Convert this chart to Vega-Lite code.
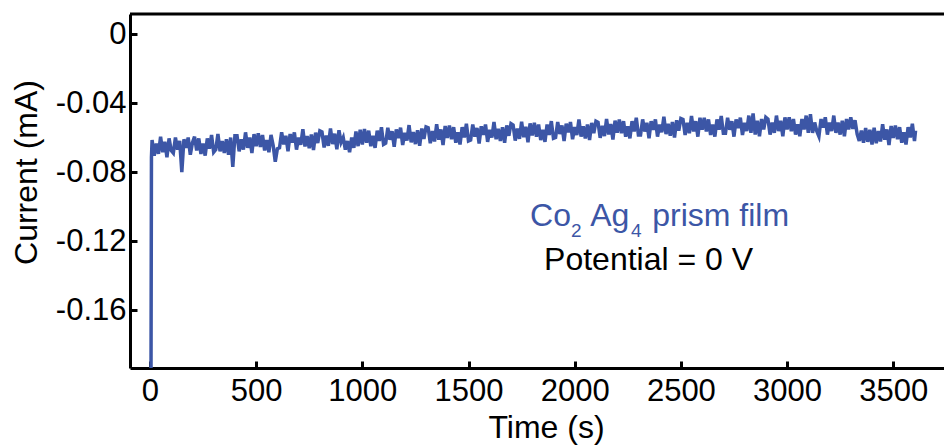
{
  "$schema": "https://vega.github.io/schema/vega-lite/v6.json",
  "width": 814,
  "height": 354,
  "padding": {"left": 130, "top": 14, "right": 0, "bottom": 78},
  "autosize": {"type": "none"},
  "background": "white",
  "config": {
    "view": {"stroke": null},
    "axis": {
      "grid": false,
      "domainColor": "black",
      "domainWidth": 3,
      "tickColor": "black",
      "tickWidth": 3,
      "tickSize": -7,
      "labelFont": "Liberation Sans",
      "labelColor": "black",
      "labelFontSize": 31,
      "titleFont": "Liberation Sans",
      "titleFontWeight": "normal",
      "titleColor": "black",
      "titleFontSize": 32
    },
    "text": {"font": "Liberation Sans", "align": "left", "baseline": "alphabetic"}
  },
  "data": {
    "values": [
      {"t": 4, "i": -0.25}, {"t": 7, "i": -0.0715},
      {"t": 10, "i": -0.0615}, {"t": 20, "i": -0.0705}, {"t": 30, "i": -0.0635}, {"t": 40, "i": -0.0695}, {"t": 50, "i": -0.0595}, {"t": 60, "i": -0.0685}, {"t": 70, "i": -0.0625}, {"t": 80, "i": -0.0715}, {"t": 90, "i": -0.0605}, {"t": 100, "i": -0.0675},
      {"t": 110, "i": -0.069}, {"t": 120, "i": -0.06}, {"t": 130, "i": -0.067}, {"t": 140, "i": -0.062}, {"t": 150, "i": -0.08}, {"t": 160, "i": -0.061}, {"t": 170, "i": -0.066}, {"t": 180, "i": -0.06}, {"t": 190, "i": -0.07}, {"t": 200, "i": -0.063},
      {"t": 210, "i": -0.0595}, {"t": 220, "i": -0.0675}, {"t": 230, "i": -0.0605}, {"t": 240, "i": -0.0695}, {"t": 250, "i": -0.0635}, {"t": 260, "i": -0.0705}, {"t": 270, "i": -0.0605}, {"t": 280, "i": -0.0665}, {"t": 290, "i": -0.0585}, {"t": 300, "i": -0.0685},
      {"t": 310, "i": -0.067}, {"t": 320, "i": -0.058}, {"t": 330, "i": -0.068}, {"t": 340, "i": -0.062}, {"t": 350, "i": -0.069}, {"t": 360, "i": -0.061}, {"t": 370, "i": -0.07}, {"t": 380, "i": -0.06}, {"t": 390, "i": -0.077}, {"t": 400, "i": -0.059},
      {"t": 410, "i": -0.059}, {"t": 420, "i": -0.068}, {"t": 430, "i": -0.061}, {"t": 440, "i": -0.067}, {"t": 450, "i": -0.057}, {"t": 460, "i": -0.066}, {"t": 470, "i": -0.06}, {"t": 480, "i": -0.069}, {"t": 490, "i": -0.058}, {"t": 500, "i": -0.065},
      {"t": 510, "i": -0.0575}, {"t": 520, "i": -0.0655}, {"t": 530, "i": -0.0585}, {"t": 540, "i": -0.0675}, {"t": 550, "i": -0.0615}, {"t": 560, "i": -0.0685}, {"t": 570, "i": -0.0585}, {"t": 580, "i": -0.0645}, {"t": 590, "i": -0.074}, {"t": 600, "i": -0.0665},
      {"t": 610, "i": -0.066}, {"t": 620, "i": -0.057}, {"t": 630, "i": -0.064}, {"t": 640, "i": -0.059}, {"t": 650, "i": -0.068}, {"t": 660, "i": -0.058}, {"t": 670, "i": -0.063}, {"t": 680, "i": -0.057}, {"t": 690, "i": -0.067}, {"t": 700, "i": -0.06},
      {"t": 710, "i": -0.0642}, {"t": 720, "i": -0.0552}, {"t": 730, "i": -0.0652}, {"t": 740, "i": -0.0592}, {"t": 750, "i": -0.0662}, {"t": 760, "i": -0.0582}, {"t": 770, "i": -0.0672}, {"t": 780, "i": -0.0572}, {"t": 790, "i": -0.0632}, {"t": 800, "i": -0.0562},
      {"t": 810, "i": -0.0568}, {"t": 820, "i": -0.0658}, {"t": 830, "i": -0.0588}, {"t": 840, "i": -0.0648}, {"t": 850, "i": -0.0548}, {"t": 860, "i": -0.0638}, {"t": 870, "i": -0.0578}, {"t": 880, "i": -0.0668}, {"t": 890, "i": -0.0558}, {"t": 900, "i": -0.0628},
      {"t": 910, "i": -0.06}, {"t": 920, "i": -0.067}, {"t": 930, "i": -0.062}, {"t": 940, "i": -0.0685}, {"t": 950, "i": -0.06}, {"t": 960, "i": -0.066}, {"t": 970, "i": -0.0565}, {"t": 980, "i": -0.065}, {"t": 990, "i": -0.0555}, {"t": 1000, "i": -0.064},
      {"t": 1010, "i": -0.055}, {"t": 1020, "i": -0.063}, {"t": 1030, "i": -0.056}, {"t": 1040, "i": -0.065}, {"t": 1050, "i": -0.059}, {"t": 1060, "i": -0.066}, {"t": 1070, "i": -0.056}, {"t": 1080, "i": -0.062}, {"t": 1090, "i": -0.054}, {"t": 1100, "i": -0.064},
      {"t": 1110, "i": -0.0633}, {"t": 1120, "i": -0.0543}, {"t": 1130, "i": -0.0613}, {"t": 1140, "i": -0.0563}, {"t": 1150, "i": -0.0653}, {"t": 1160, "i": -0.0553}, {"t": 1170, "i": -0.0603}, {"t": 1180, "i": -0.0543}, {"t": 1190, "i": -0.0643}, {"t": 1200, "i": -0.0573},
      {"t": 1210, "i": -0.0618}, {"t": 1220, "i": -0.0528}, {"t": 1230, "i": -0.0628}, {"t": 1240, "i": -0.0568}, {"t": 1250, "i": -0.0638}, {"t": 1260, "i": -0.0558}, {"t": 1270, "i": -0.0648}, {"t": 1280, "i": -0.0548}, {"t": 1290, "i": -0.0608}, {"t": 1300, "i": -0.0538},
      {"t": 1310, "i": -0.0543}, {"t": 1320, "i": -0.0633}, {"t": 1330, "i": -0.0563}, {"t": 1340, "i": -0.0623}, {"t": 1350, "i": -0.0523}, {"t": 1360, "i": -0.0613}, {"t": 1370, "i": -0.0553}, {"t": 1380, "i": -0.0643}, {"t": 1390, "i": -0.0533}, {"t": 1400, "i": -0.0603},
      {"t": 1410, "i": -0.053}, {"t": 1420, "i": -0.061}, {"t": 1430, "i": -0.054}, {"t": 1440, "i": -0.063}, {"t": 1450, "i": -0.057}, {"t": 1460, "i": -0.064}, {"t": 1470, "i": -0.054}, {"t": 1480, "i": -0.06}, {"t": 1490, "i": -0.052}, {"t": 1500, "i": -0.062},
      {"t": 1510, "i": -0.0615}, {"t": 1520, "i": -0.0525}, {"t": 1530, "i": -0.0595}, {"t": 1540, "i": -0.0545}, {"t": 1550, "i": -0.0635}, {"t": 1560, "i": -0.0535}, {"t": 1570, "i": -0.0585}, {"t": 1580, "i": -0.0525}, {"t": 1590, "i": -0.0625}, {"t": 1600, "i": -0.0555},
      {"t": 1610, "i": -0.06}, {"t": 1620, "i": -0.051}, {"t": 1630, "i": -0.061}, {"t": 1640, "i": -0.055}, {"t": 1650, "i": -0.062}, {"t": 1660, "i": -0.054}, {"t": 1670, "i": -0.063}, {"t": 1680, "i": -0.053}, {"t": 1690, "i": -0.059}, {"t": 1700, "i": -0.052},
      {"t": 1710, "i": -0.0528}, {"t": 1720, "i": -0.0618}, {"t": 1730, "i": -0.0548}, {"t": 1740, "i": -0.0608}, {"t": 1750, "i": -0.0508}, {"t": 1760, "i": -0.0598}, {"t": 1770, "i": -0.0538}, {"t": 1780, "i": -0.0628}, {"t": 1790, "i": -0.0518}, {"t": 1800, "i": -0.0588},
      {"t": 1810, "i": -0.0515}, {"t": 1820, "i": -0.0595}, {"t": 1830, "i": -0.0525}, {"t": 1840, "i": -0.0615}, {"t": 1850, "i": -0.0555}, {"t": 1860, "i": -0.0625}, {"t": 1870, "i": -0.0525}, {"t": 1880, "i": -0.0585}, {"t": 1890, "i": -0.0505}, {"t": 1900, "i": -0.0605},
      {"t": 1910, "i": -0.06}, {"t": 1920, "i": -0.051}, {"t": 1930, "i": -0.058}, {"t": 1940, "i": -0.053}, {"t": 1950, "i": -0.062}, {"t": 1960, "i": -0.052}, {"t": 1970, "i": -0.057}, {"t": 1980, "i": -0.051}, {"t": 1990, "i": -0.061}, {"t": 2000, "i": -0.054},
      {"t": 2010, "i": -0.0585}, {"t": 2020, "i": -0.0495}, {"t": 2030, "i": -0.0595}, {"t": 2040, "i": -0.0535}, {"t": 2050, "i": -0.0605}, {"t": 2060, "i": -0.0525}, {"t": 2070, "i": -0.0615}, {"t": 2080, "i": -0.0515}, {"t": 2090, "i": -0.0575}, {"t": 2100, "i": -0.0505},
      {"t": 2110, "i": -0.0512}, {"t": 2120, "i": -0.0602}, {"t": 2130, "i": -0.0532}, {"t": 2140, "i": -0.0592}, {"t": 2150, "i": -0.0492}, {"t": 2160, "i": -0.0582}, {"t": 2170, "i": -0.0522}, {"t": 2180, "i": -0.0612}, {"t": 2190, "i": -0.0502}, {"t": 2200, "i": -0.0572},
      {"t": 2210, "i": -0.0495}, {"t": 2220, "i": -0.0575}, {"t": 2230, "i": -0.0505}, {"t": 2240, "i": -0.0595}, {"t": 2250, "i": -0.0535}, {"t": 2260, "i": -0.0605}, {"t": 2270, "i": -0.0505}, {"t": 2280, "i": -0.0565}, {"t": 2290, "i": -0.0485}, {"t": 2300, "i": -0.0585},
      {"t": 2310, "i": -0.0585}, {"t": 2320, "i": -0.0495}, {"t": 2330, "i": -0.0565}, {"t": 2340, "i": -0.0515}, {"t": 2350, "i": -0.0605}, {"t": 2360, "i": -0.0505}, {"t": 2370, "i": -0.0555}, {"t": 2380, "i": -0.0495}, {"t": 2390, "i": -0.0595}, {"t": 2400, "i": -0.0525},
      {"t": 2410, "i": -0.057}, {"t": 2420, "i": -0.048}, {"t": 2430, "i": -0.058}, {"t": 2440, "i": -0.052}, {"t": 2450, "i": -0.059}, {"t": 2460, "i": -0.051}, {"t": 2470, "i": -0.06}, {"t": 2480, "i": -0.05}, {"t": 2490, "i": -0.056}, {"t": 2500, "i": -0.049},
      {"t": 2510, "i": -0.0495}, {"t": 2520, "i": -0.0585}, {"t": 2530, "i": -0.0515}, {"t": 2540, "i": -0.0575}, {"t": 2550, "i": -0.0475}, {"t": 2560, "i": -0.0565}, {"t": 2570, "i": -0.0505}, {"t": 2580, "i": -0.0595}, {"t": 2590, "i": -0.0485}, {"t": 2600, "i": -0.0555},
      {"t": 2610, "i": -0.0485}, {"t": 2620, "i": -0.0565}, {"t": 2630, "i": -0.0495}, {"t": 2640, "i": -0.0585}, {"t": 2650, "i": -0.0525}, {"t": 2660, "i": -0.0595}, {"t": 2670, "i": -0.0495}, {"t": 2680, "i": -0.0555}, {"t": 2690, "i": -0.0475}, {"t": 2700, "i": -0.0575},
      {"t": 2710, "i": -0.0575}, {"t": 2720, "i": -0.0485}, {"t": 2730, "i": -0.0555}, {"t": 2740, "i": -0.0505}, {"t": 2750, "i": -0.0595}, {"t": 2760, "i": -0.0495}, {"t": 2770, "i": -0.0545}, {"t": 2780, "i": -0.0485}, {"t": 2790, "i": -0.0585}, {"t": 2800, "i": -0.0515},
      {"t": 2810, "i": -0.0563}, {"t": 2820, "i": -0.0473}, {"t": 2830, "i": -0.0573}, {"t": 2840, "i": -0.046}, {"t": 2850, "i": -0.0583}, {"t": 2860, "i": -0.0503}, {"t": 2870, "i": -0.0593}, {"t": 2880, "i": -0.0493}, {"t": 2890, "i": -0.0553}, {"t": 2900, "i": -0.0483},
      {"t": 2910, "i": -0.0493}, {"t": 2920, "i": -0.0583}, {"t": 2930, "i": -0.0513}, {"t": 2940, "i": -0.0573}, {"t": 2950, "i": -0.0473}, {"t": 2960, "i": -0.0563}, {"t": 2970, "i": -0.0503}, {"t": 2980, "i": -0.0593}, {"t": 2990, "i": -0.0483}, {"t": 3000, "i": -0.0553},
      {"t": 3010, "i": -0.0483}, {"t": 3020, "i": -0.0563}, {"t": 3030, "i": -0.0493}, {"t": 3040, "i": -0.0583}, {"t": 3050, "i": -0.0523}, {"t": 3060, "i": -0.0593}, {"t": 3070, "i": -0.0493}, {"t": 3080, "i": -0.0553}, {"t": 3090, "i": -0.0473}, {"t": 3100, "i": -0.0573},
      {"t": 3110, "i": -0.0465}, {"t": 3120, "i": -0.0573}, {"t": 3130, "i": -0.0513}, {"t": 3140, "i": -0.0563}, {"t": 3150, "i": -0.0593}, {"t": 3160, "i": -0.0493}, {"t": 3170, "i": -0.0543}, {"t": 3180, "i": -0.0483}, {"t": 3190, "i": -0.0583}, {"t": 3200, "i": -0.0513},
      {"t": 3210, "i": -0.0563}, {"t": 3220, "i": -0.0473}, {"t": 3230, "i": -0.0573}, {"t": 3240, "i": -0.0513}, {"t": 3250, "i": -0.0583}, {"t": 3260, "i": -0.0503}, {"t": 3270, "i": -0.0593}, {"t": 3280, "i": -0.0493}, {"t": 3290, "i": -0.0553}, {"t": 3300, "i": -0.0483},
      {"t": 3310, "i": -0.055}, {"t": 3320, "i": -0.05}, {"t": 3330, "i": -0.058}, {"t": 3340, "i": -0.062}, {"t": 3350, "i": -0.056}, {"t": 3360, "i": -0.063}, {"t": 3370, "i": -0.0545}, {"t": 3380, "i": -0.0625}, {"t": 3390, "i": -0.0555}, {"t": 3400, "i": -0.064},
      {"t": 3410, "i": -0.0543}, {"t": 3420, "i": -0.0633}, {"t": 3430, "i": -0.0563}, {"t": 3440, "i": -0.0623}, {"t": 3450, "i": -0.0523}, {"t": 3460, "i": -0.0613}, {"t": 3470, "i": -0.0553}, {"t": 3480, "i": -0.0643}, {"t": 3490, "i": -0.0533}, {"t": 3500, "i": -0.0603},
      {"t": 3510, "i": -0.053}, {"t": 3520, "i": -0.061}, {"t": 3530, "i": -0.054}, {"t": 3540, "i": -0.063}, {"t": 3550, "i": -0.057}, {"t": 3560, "i": -0.064}, {"t": 3570, "i": -0.054}, {"t": 3580, "i": -0.06}, {"t": 3590, "i": -0.052}, {"t": 3600, "i": -0.062}, {"t": 3605, "i": -0.056}
    ]
  },
  "layer": [
    {
      "mark": {"type": "line", "color": "#3c56a6", "strokeWidth": 3.5, "clip": true},
      "encoding": {
        "x": {
          "field": "t", "type": "quantitative",
          "scale": {"domain": [-94, 3739], "nice": false, "zero": false},
          "axis": {"title": "Time (s)", "values": [0, 500, 1000, 1500, 2000, 2500, 3000, 3500], "format": "d", "labelPadding": 15, "titlePadding": 6, "titleX": 416, "labelFlush": false}
        },
        "y": {
          "field": "i", "type": "quantitative",
          "scale": {"domain": [-0.1936, 0.0116], "nice": false, "zero": false},
          "axis": {"title": "Current (mA)", "values": [0, -0.04, -0.08, -0.12, -0.16], "labelExpr": "datum.value == 0 ? '0' : '-' + format(-datum.value, '.2f')", "labelPadding": 11, "titlePadding": 12, "titleY": 158, "labelFlush": false}
        }
      }
    },
    {
      "data": {"values": [{}]},
      "mark": {"type": "rule", "color": "black", "strokeWidth": 3},
      "encoding": {"y": {"datum": 0.0116}}
    },
    {
      "data": {"values": [{}]},
      "mark": {"type": "text", "color": "#3c56a6", "fontSize": 32},
      "encoding": {"x": {"datum": 1790}, "y": {"datum": -0.1113}, "text": {"value": "Co"}}
    },
    {
      "data": {"values": [{}]},
      "mark": {"type": "text", "color": "#3c56a6", "fontSize": 19},
      "encoding": {"x": {"datum": 1983}, "y": {"datum": -0.1177}, "text": {"value": "2"}}
    },
    {
      "data": {"values": [{}]},
      "mark": {"type": "text", "color": "#3c56a6", "fontSize": 32},
      "encoding": {"x": {"datum": 2073}, "y": {"datum": -0.1113}, "text": {"value": "Ag"}}
    },
    {
      "data": {"values": [{}]},
      "mark": {"type": "text", "color": "#3c56a6", "fontSize": 19},
      "encoding": {"x": {"datum": 2265}, "y": {"datum": -0.1177}, "text": {"value": "4"}}
    },
    {
      "data": {"values": [{}]},
      "mark": {"type": "text", "color": "#3c56a6", "fontSize": 32},
      "encoding": {"x": {"datum": 2365}, "y": {"datum": -0.1113}, "text": {"value": "prism film"}}
    },
    {
      "data": {"values": [{}]},
      "mark": {"type": "text", "color": "black", "fontSize": 32, "align": "center"},
      "encoding": {"x": {"datum": 2348}, "y": {"datum": -0.1368}, "text": {"value": "Potential = 0 V"}}
    }
  ]
}
